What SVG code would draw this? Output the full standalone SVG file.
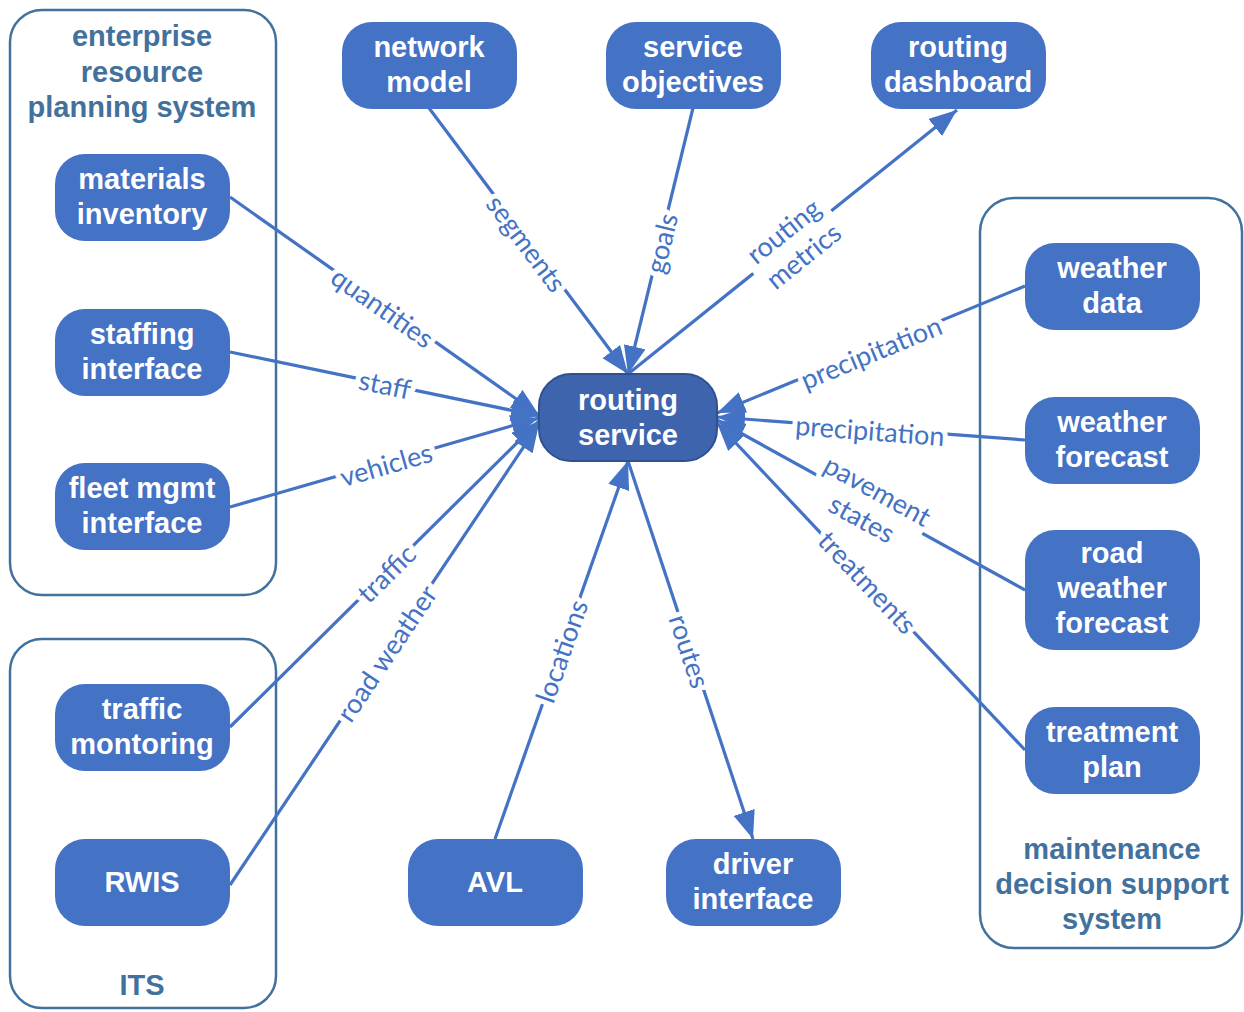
<svg xmlns="http://www.w3.org/2000/svg" width="1244" height="1012" viewBox="0 0 1244 1012">
  <style>
    .container { fill: none; stroke: #41719C; stroke-width: 2.5; }
    .ctitle { font-family: "Liberation Sans", Arial, sans-serif; font-weight: bold; font-size: 29px; fill: #41719C; text-anchor: middle; }
    .node rect { fill: #4472C4; }
    .node text { font-family: "Liberation Sans", Arial, sans-serif; font-weight: bold; font-size: 29px; fill: #FFFFFF; text-anchor: middle; }
    #routing-service rect { fill: #3D64AD; stroke: #2F528F; stroke-width: 2; }
    .edge { stroke: #4472C4; stroke-width: 3.2; fill: none; }
    .arrow { marker-end: url(#head); }
    .label { font-family: Lato, "Open Sans", sans-serif; font-size: 27px; fill: #4472C4; text-anchor: middle; dominant-baseline: central; paint-order: stroke; stroke: #FFFFFF; stroke-width: 10; stroke-linejoin: round; }
    .gap { fill: #FFFFFF; }
  </style>
  <defs>
    <marker id="head" markerUnits="userSpaceOnUse" viewBox="0 0 28 22" markerWidth="28" markerHeight="22" refX="28" refY="11" orient="auto">
      <path d="M0,0 L28,11 L0,22 Z" fill="#4472C4"/>
    </marker>
  </defs>

  <rect width="1244" height="1012" fill="#FFFFFF"/>

  <!-- system boundaries -->
  <g id="erp-system">
    <rect class="container" x="10" y="10" width="266" height="585" rx="32"/>
    <text class="ctitle" x="142" y="46">enterprise</text>
    <text class="ctitle" x="142" y="82">resource</text>
    <text class="ctitle" x="142" y="117">planning system</text>
  </g>
  <g id="its-system">
    <rect class="container" x="10" y="639" width="266" height="369" rx="32"/>
    <text class="ctitle" x="142" y="995">ITS</text>
  </g>
  <g id="mdss-system">
    <rect class="container" x="980" y="198" width="262" height="750" rx="34"/>
    <text class="ctitle" x="1112" y="859">maintenance</text>
    <text class="ctitle" x="1112" y="894">decision support</text>
    <text class="ctitle" x="1112" y="929">system</text>
  </g>

  <!-- data flows -->
  <g id="connectors">
    <line class="edge arrow" x1="429" y1="108" x2="628" y2="374"/>
    <line class="edge arrow" x1="693" y1="108" x2="628" y2="374"/>
    <line class="edge arrow" x1="628" y1="374" x2="957" y2="110"/>
    <line class="edge arrow" x1="230" y1="197" x2="539" y2="415"/>
    <line class="edge arrow" x1="230" y1="352" x2="539" y2="416"/>
    <line class="edge arrow" x1="230" y1="507" x2="539" y2="418"/>
    <line class="edge arrow" x1="230" y1="727" x2="539" y2="421"/>
    <line class="edge arrow" x1="230" y1="885" x2="539" y2="424"/>
    <line class="edge arrow" x1="495" y1="839" x2="628" y2="461"/>
    <line class="edge arrow" x1="628" y1="461" x2="753" y2="839"/>
    <line class="edge arrow" x1="1025" y1="286" x2="717" y2="413"/>
    <line class="edge arrow" x1="1025" y1="440" x2="717" y2="417"/>
    <line class="edge arrow" x1="1025" y1="590" x2="717" y2="420"/>
    <line class="edge arrow" x1="1025" y1="750" x2="717" y2="423"/>

    <text class="label" transform="translate(527,243) rotate(53.2)">segments</text>
    <text class="label" transform="translate(661,243) rotate(-76.3)">goals</text>
    <g transform="translate(793,243) rotate(-38.7)">
      <rect class="gap" x="-50" y="-34" width="100" height="68"/>
      <text class="label" x="0" y="-16">routing</text>
      <text class="label" x="0" y="16">metrics</text>
    </g>
    <text class="label" transform="translate(383,307) rotate(35.2)">quantities</text>
    <text class="label" transform="translate(385,384) rotate(11.7)">staff</text>
    <text class="label" transform="translate(386,464) rotate(-16.1)">vehicles</text>
    <text class="label" transform="translate(386,573) rotate(-44.7)">traffic</text>
    <text class="label" transform="translate(386,653) rotate(-56.2)">road weather</text>
    <text class="label" transform="translate(561,651) rotate(-70.6)">locations</text>
    <text class="label" transform="translate(690,651) rotate(71.7)">routes</text>
    <text class="label" transform="translate(871,352) rotate(-22.4)">precipitation</text>
    <text class="label" transform="translate(870,430) rotate(4.3)">precipitation</text>
    <g transform="translate(870,504) rotate(28.9)">
      <rect class="gap" x="-60" y="-34" width="120" height="68"/>
      <text class="label" x="0" y="-16">pavement</text>
      <text class="label" x="0" y="16">states</text>
    </g>
    <text class="label" transform="translate(868,582) rotate(46.7)">treatments</text>
  </g>

  <!-- components -->
  <g id="routing-service" class="node">
    <rect x="539" y="374" width="178" height="87" rx="32"/>
    <text x="628" y="410">routing</text>
    <text x="628" y="445">service</text>
  </g>
  <g id="network-model" class="node">
    <rect x="342" y="22" width="175" height="87" rx="30"/>
    <text x="429" y="57">network</text>
    <text x="429" y="92">model</text>
  </g>
  <g id="service-objectives" class="node">
    <rect x="606" y="22" width="175" height="87" rx="30"/>
    <text x="693" y="57">service</text>
    <text x="693" y="92">objectives</text>
  </g>
  <g id="routing-dashboard" class="node">
    <rect x="871" y="22" width="175" height="87" rx="30"/>
    <text x="958" y="57">routing</text>
    <text x="958" y="92">dashboard</text>
  </g>
  <g id="materials-inventory" class="node">
    <rect x="55" y="154" width="175" height="87" rx="30"/>
    <text x="142" y="189">materials</text>
    <text x="142" y="224">inventory</text>
  </g>
  <g id="staffing-interface" class="node">
    <rect x="55" y="309" width="175" height="87" rx="30"/>
    <text x="142" y="344">staffing</text>
    <text x="142" y="379">interface</text>
  </g>
  <g id="fleet-mgmt-interface" class="node">
    <rect x="55" y="463" width="175" height="87" rx="30"/>
    <text x="142" y="498">fleet mgmt</text>
    <text x="142" y="533">interface</text>
  </g>
  <g id="traffic-montoring" class="node">
    <rect x="55" y="684" width="175" height="87" rx="30"/>
    <text x="142" y="719">traffic</text>
    <text x="142" y="754">montoring</text>
  </g>
  <g id="rwis" class="node">
    <rect x="55" y="839" width="175" height="87" rx="30"/>
    <text x="142" y="892">RWIS</text>
  </g>
  <g id="avl" class="node">
    <rect x="408" y="839" width="175" height="87" rx="30"/>
    <text x="495" y="892">AVL</text>
  </g>
  <g id="driver-interface" class="node">
    <rect x="666" y="839" width="175" height="87" rx="30"/>
    <text x="753" y="874">driver</text>
    <text x="753" y="909">interface</text>
  </g>
  <g id="weather-data" class="node">
    <rect x="1025" y="243" width="175" height="87" rx="30"/>
    <text x="1112" y="278">weather</text>
    <text x="1112" y="313">data</text>
  </g>
  <g id="weather-forecast" class="node">
    <rect x="1025" y="397" width="175" height="87" rx="30"/>
    <text x="1112" y="432">weather</text>
    <text x="1112" y="467">forecast</text>
  </g>
  <g id="road-weather-forecast" class="node">
    <rect x="1025" y="530" width="175" height="120" rx="30"/>
    <text x="1112" y="563">road</text>
    <text x="1112" y="598">weather</text>
    <text x="1112" y="633">forecast</text>
  </g>
  <g id="treatment-plan" class="node">
    <rect x="1025" y="707" width="175" height="87" rx="30"/>
    <text x="1112" y="742">treatment</text>
    <text x="1112" y="777">plan</text>
  </g>
</svg>
